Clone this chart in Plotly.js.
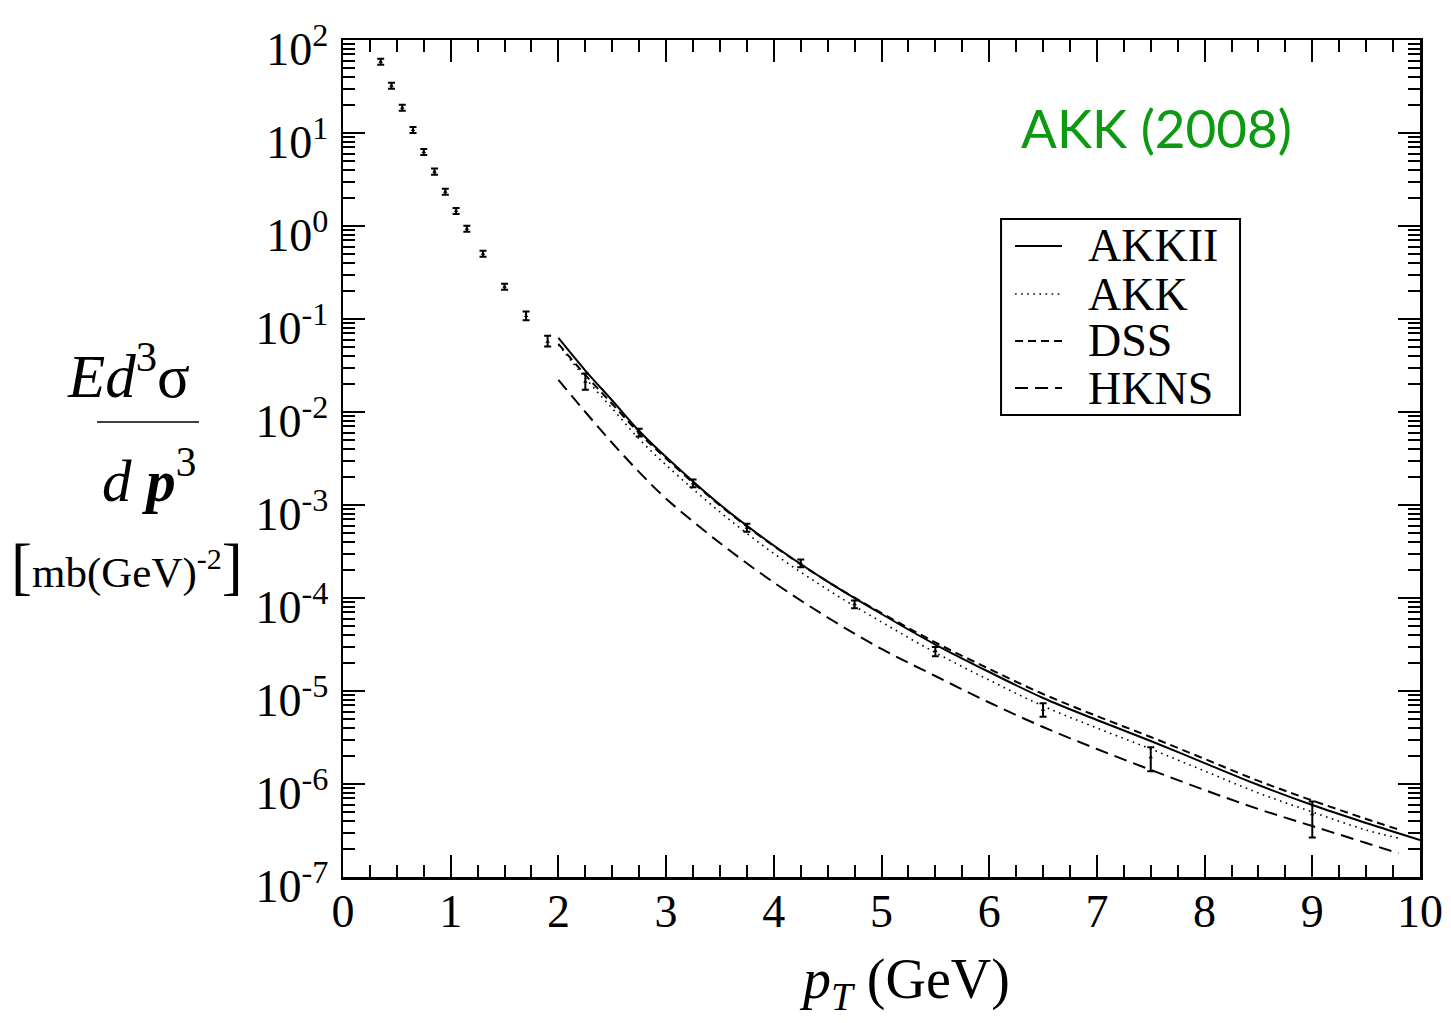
<!DOCTYPE html>
<html><head><meta charset="utf-8">
<script src="https://cdn.plot.ly/plotly-3.0.1.min.js"></script>
<style>body{margin:0;background:#fff}#chart{width:1451px;height:1023px}</style>
</head><body><div id="chart"></div>
<script>
// ---- data ----
const ptData = [0.35,0.45,0.55,0.65,0.75,0.85,0.95,1.05,1.15,1.3,1.5,1.7,1.9,2.25,2.75,3.25,3.75,4.25,4.75,5.5,6.5,7.5,9.0];
const sigData = [58.4,32.3,18.7,10.8,6.25,3.84,2.34,1.45,0.936,0.504,0.222,0.108,0.057,0.0212,0.0060,0.00171,5.7e-4,2.36e-4,8.55e-5,2.70e-5,6.29e-6,1.94e-6,4.74e-7];
const errHi = [4.4,2.5,1.4,0.83,0.48,0.30,0.18,0.11,0.072,0.039,0.017,0.0126,0.0092,0.0048,0.0006,0.00017,0.57e-4,0.24e-4,0.86e-5,0.28e-5,1.1e-6,0.55e-6,1.76e-7];
const errLo = [4.2,2.3,1.35,0.78,0.45,0.28,0.17,0.10,0.067,0.036,0.016,0.0113,0.0065,0.0039,0.00055,0.00016,0.53e-4,0.22e-4,0.8e-5,0.34e-5,1.0e-6,0.57e-6,2.08e-7];

const ptCurve = [2,2.25,2.5,2.75,3,3.5,4,4.5,5,5.5,6,6.5,7,7.5,8,8.5,9,9.5,10];
const ptCurveShort = [2,2.25,2.5,2.75,3,3.5,4,4.5,5,5.5,6,6.5,7,7.5,8,8.5,9,9.5,9.8];
const akkII = [0.0625,0.0279,0.0133,0.00625,0.00328,1.01e-3,3.67e-4,1.50e-4,6.73e-5,3.16e-5,1.60e-5,8.41e-6,4.88e-6,2.90e-6,1.68e-6,9.75e-7,5.94e-7,3.81e-7,2.50e-7];
const akk   = [0.0530,0.0232,0.0109,0.00513,0.00269,8.41e-4,3.01e-4,1.23e-4,5.52e-5,2.59e-5,1.31e-5,6.90e-6,4.00e-6,2.38e-6,1.38e-6,8.0e-7,5.0e-7,3.2e-7,2.62e-7];
const dss   = [0.0540,0.0250,0.0122,0.00594,0.00316,9.89e-4,3.62e-4,1.50e-4,6.90e-5,3.33e-5,1.73e-5,9.29e-6,5.38e-6,3.20e-6,1.86e-6,1.08e-6,6.65e-7,4.21e-7,3.24e-7];
const hkns  = [0.0221,0.0100,0.00464,0.00226,0.00117,3.90e-4,1.47e-4,6.17e-5,2.83e-5,1.45e-5,7.52e-6,4.10e-6,2.38e-6,1.42e-6,8.61e-7,5.38e-7,3.53e-7,2.32e-7,1.80e-7];

const seriesNames = ['AKKII','AKK','DSS','HKNS'];
const yTickVals = [1e-7,1e-6,1e-5,1e-4,1e-3,1e-2,1e-1,1,10,100];
const yTickText = ['10<sup>-7</sup>','10<sup>-6</sup>','10<sup>-5</sup>','10<sup>-4</sup>','10<sup>-3</sup>','10<sup>-2</sup>','10<sup>-1</sup>','10<sup>0</sup>','10<sup>1</sup>','10<sup>2</sup>'];
const xTickVals = [0,1,2,3,4,5,6,7,8,9,10];

// ---- chart ----
const serif = 'Liberation Serif, Times New Roman, serif';
const lineStyles = [
  {color:'#000', width:2, dash:'solid'},
  {color:'#000', width:1.6, dash:'1.6px,4.5px'},
  {color:'#000', width:2, dash:'8px,5px'},
  {color:'#000', width:2, dash:'13px,7px'}
];
const curveX = [ptCurve, ptCurveShort, ptCurveShort, ptCurveShort];
const curveY = [akkII, akk, dss, hkns];

const traces = seriesNames.map((nm, i) => ({
  x: curveX[i], y: curveY[i], name: nm, mode:'lines', showlegend:false,
  line: Object.assign({shape:'spline'}, lineStyles[i])
}));
traces.push({x: ptData, y: sigData, mode:'markers', showlegend:false, name:'data',
   marker:{symbol:'triangle-up', size:4, color:'#000'},
   error_y:{type:'data', symmetric:false, array: errHi, arrayminus: errLo, color:'#000', thickness:2, width:3.5}});

const axisCommon = {
  showline:true, linecolor:'#000', linewidth:2.5, mirror:'allticks',
  ticks:'inside', ticklen:22, tickwidth:2, tickcolor:'#000',
  showgrid:false, zeroline:false,
  tickfont:{family:serif, size:46, color:'#000'}
};

// manual legend (box, samples, labels) in paper coordinates
const legBox = {x0:0.6110, x1:0.8329, y0:0.5520, y1:0.7861};
const legRowsY = [0.7539, 0.6965, 0.6404, 0.5842];
const shapes = [
  {type:'rect', xref:'paper', yref:'paper', x0:legBox.x0, x1:legBox.x1, y0:legBox.y0, y1:legBox.y1,
   line:{color:'#000', width:2}, fillcolor:'#fff', layer:'above'},
  {type:'line', xref:'paper', yref:'paper', x0:-0.2284, x1:-0.1337, y0:0.5436, y1:0.5436, line:{color:'#000', width:1.5}}
];
const annotations = [
  {text:'AKK (2008)', xref:'paper', yref:'paper', x:0.7549, y:0.896, xanchor:'center', yanchor:'middle', showarrow:false,
   font:{family:'Lato, Open Sans, sans-serif', size:53, color:'#0d9a12'}},
  {text:'<i>Ed</i><sup>3</sup>σ', xref:'paper', yref:'paper', x:-0.1996, y:0.604, xanchor:'center', yanchor:'middle', showarrow:false,
   font:{family:serif, size:61, color:'#000'}},
  {text:'<i>d</i> <b><i>p</i></b><sup>3</sup>', xref:'paper', yref:'paper', x:-0.180, y:0.478, xanchor:'center', yanchor:'middle', showarrow:false,
   font:{family:serif, size:59, color:'#000'}},
  {text:'<span style="font-size:63px">[</span>mb(GeV)<sup>-2</sup><span style="font-size:63px">]</span>', xref:'paper', yref:'paper', x:-0.2006, y:0.372, xanchor:'center', yanchor:'middle', showarrow:false,
   font:{family:serif, size:43, color:'#000'}},
  {text:'<i>p</i><sub><i>T</i></sub> (GeV)', xref:'paper', yref:'paper', x:0.5209, y:-0.127, xanchor:'center', yanchor:'middle', showarrow:false,
   font:{family:serif, size:56, color:'#000'}}
];
seriesNames.forEach((nm, i) => {
  shapes.push({type:'line', xref:'paper', yref:'paper', x0:0.6240, x1:0.6676, y0:legRowsY[i], y1:legRowsY[i],
    line:{color:lineStyles[i].color, width:lineStyles[i].width, dash:lineStyles[i].dash}, layer:'above'});
  annotations.push({text:nm, xref:'paper', yref:'paper', x:0.6900, y:legRowsY[i], xanchor:'left', yanchor:'middle',
    showarrow:false, font:{family:serif, size:46, color:'#000'}});
});

const layout = {
  width:1451, height:1023,
  paper_bgcolor:'#fff', plot_bgcolor:'#fff',
  margin:{l:343, r:31, t:40, b:146},
  showlegend:false,
  xaxis: Object.assign({}, axisCommon, {
    range:[0,10], tickmode:'array', tickvals:xTickVals, ticklabelstandoff:-8,
    minor:{dtick:0.25, ticks:'inside', ticklen:12, tickwidth:2, tickcolor:'#000', showgrid:false}
  }),
  yaxis: Object.assign({}, axisCommon, {
    type:'log', range:[-7,2], tickmode:'array', tickvals:yTickVals, ticktext:yTickText,
    ticklabelstandoff:3, ticklabelshift:9, ticklabeloverflow:'allow',
    minor:{dtick:'D1', ticks:'inside', ticklen:12, tickwidth:2, tickcolor:'#000', showgrid:false}
  }),
  annotations: annotations,
  shapes: shapes
};

Plotly.newPlot('chart', traces, layout, {displayModeBar:false, staticPlot:true});
</script></body></html>
